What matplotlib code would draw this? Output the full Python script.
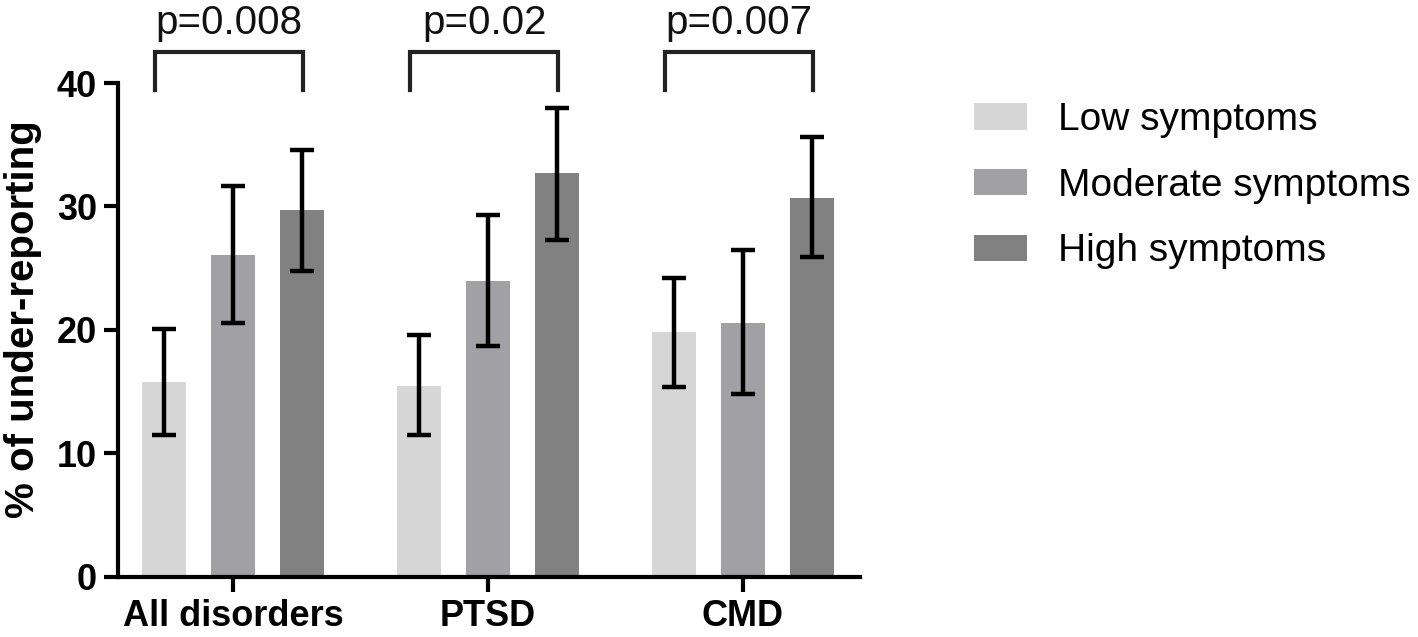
import matplotlib
matplotlib.use('Agg')
import matplotlib.pyplot as plt
from matplotlib.patches import Patch
import numpy as np

plt.rcParams['font.family'] = ['Liberation Sans', 'DejaVu Sans']

# data
groups = ['All disorders', 'PTSD', 'CMD']
series = ['Low symptoms', 'Moderate symptoms', 'High symptoms']
values = {
    'Low symptoms': [15.8, 15.5, 19.8],
    'Moderate symptoms': [26.1, 24.0, 20.6],
    'High symptoms': [29.7, 32.7, 30.7],
}
err_low = {
    'Low symptoms': [11.5, 11.5, 15.4],
    'Moderate symptoms': [20.6, 18.7, 14.8],
    'High symptoms': [24.8, 27.3, 25.9],
}
err_high = {
    'Low symptoms': [20.1, 19.6, 24.2],
    'Moderate symptoms': [31.7, 29.3, 26.5],
    'High symptoms': [34.6, 38.0, 35.6],
}
p_values = ['p=0.008', 'p=0.02', 'p=0.007']
colors = ['#d6d6d6', '#a1a1a5', '#818181']

fig = plt.figure(figsize=(14.18, 6.37), dpi=100)
ax = fig.add_axes([0.0832, 0.0942, 0.5233, 0.7755])

x = np.arange(len(groups))
offset = 0.2706
width = 0.176

for i, (name, col) in enumerate(zip(series, colors)):
    vals = np.array(values[name])
    lo = vals - np.array(err_low[name])
    hi = np.array(err_high[name]) - vals
    xs = x + (i - 1) * offset
    ax.bar(xs, vals, width=width, color=col, zorder=2)
    ax.errorbar(xs, vals, yerr=[lo, hi], fmt='none', ecolor='black',
                elinewidth=3.2, capsize=8.5, capthick=3.2, zorder=3)

# significance brackets
for i, p in enumerate(p_values):
    x0 = x[i] - 0.305
    x1 = x[i] + 0.275
    ax.plot([x0, x0, x1, x1], [39.4, 42.5, 42.5, 39.4], color='#222222',
            lw=3, clip_on=False, solid_joinstyle='miter')
    ax.text((x0 + x1) / 2, 44.0, p, ha='center', va='baseline', fontsize=29,
            color='#111111')

ax.set_xlim(-0.451, 2.459)
ax.set_ylim(0, 40)
ax.set_yticks([0, 10, 20, 30, 40])
ax.set_xticks(x)
ax.set_xticklabels(groups, fontsize=26, fontweight='bold')
for lab in ax.get_yticklabels():
    lab.set_fontsize(26)
    lab.set_fontweight('bold')
ax.set_ylabel('% of under-reporting', fontsize=29, fontweight='bold')
ax.yaxis.set_label_coords(-0.103, 0.522)

ax.spines['top'].set_visible(False)
ax.spines['right'].set_visible(False)
ax.spines['left'].set_linewidth(3)
ax.spines['bottom'].set_linewidth(3)
ax.tick_params(axis='y', length=10, width=3, pad=5)
ax.tick_params(axis='x', length=11, width=3, pad=5)

handles = [Patch(facecolor=c, edgecolor='none') for c in colors]
fig.legend(handles, series, loc='upper left', bbox_to_anchor=(0.6869, 0.8399),
           frameon=False, fontsize=28, handlelength=1.36, handleheight=0.67,
           handletextpad=0.8, labelspacing=0.765, borderpad=0, borderaxespad=0)

fig.savefig('out.png', dpi=100)
